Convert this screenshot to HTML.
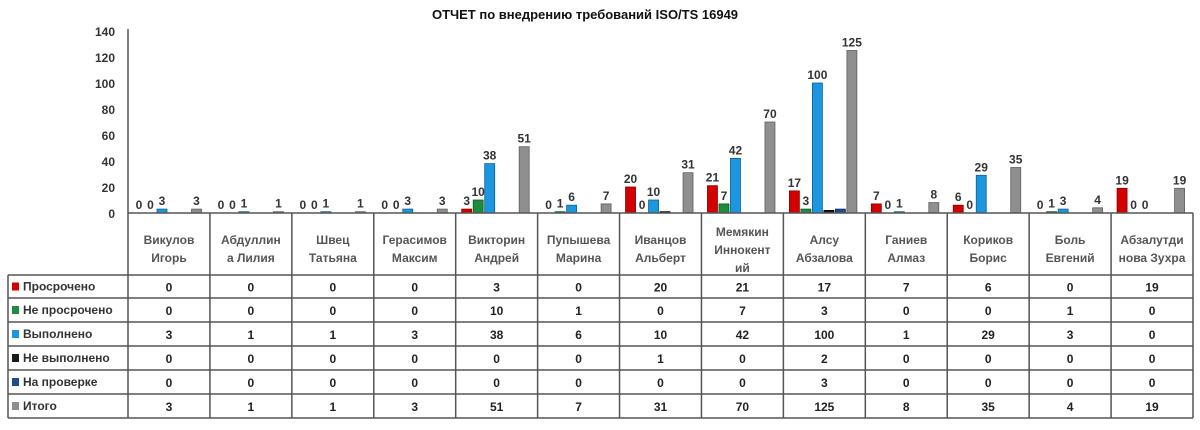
<!DOCTYPE html>
<html><head><meta charset="utf-8">
<style>
html,body{margin:0;padding:0;background:#fff;}
body{width:1200px;height:425px;overflow:hidden;font-family:"Liberation Sans",sans-serif;}
svg text{font-family:"Liberation Sans",sans-serif;}
</style></head>
<body>
<svg id="chart" width="1200" height="425" viewBox="0 0 1200 425" xmlns="http://www.w3.org/2000/svg">
<text x="585" y="19" text-anchor="middle" font-size="13" font-weight="bold" fill="#111">ОТЧЕТ по внедрению требований ISO/TS 16949</text>
<g id="axis"></g><g id="bars"></g><g id="labels"></g><g id="table"></g>
</svg>
<script>
const categories = [["Викулов","Игорь"],["Абдуллин","а Лилия"],["Швец","Татьяна"],["Герасимов","Максим"],["Викторин","Андрей"],["Пупышева","Марина"],["Иванцов","Альберт"],["Мемякин","Иннокент","ий"],["Алсу","Абзалова"],["Ганиев","Алмаз"],["Кориков","Борис"],["Боль","Евгений"],["Абзалутди","нова Зухра"]];
const seriesNames = ["Просрочено","Не просрочено","Выполнено","Не выполнено","На проверке","Итого"];
const overdue    = [0,0,0,0,3,0,20,21,17,7,6,0,19];
const notOverdue = [0,0,0,0,10,1,0,7,3,0,0,1,0];
const done       = [3,1,1,3,38,6,10,42,100,1,29,3,0];
const notDone    = [0,0,0,0,0,0,1,0,2,0,0,0,0];
const review     = [0,0,0,0,0,0,0,0,3,0,0,0,0];
const total      = [3,1,1,3,51,7,31,70,125,8,35,4,19];
const yTicks     = [0,20,40,60,80,100,120,140];

const series = [overdue,notOverdue,done,notDone,review,total];
const colors = ["#d40000","#1e8c3a","#1d96e0","#1a1a1a","#1f4e8c","#8f8f8f"];
const strokes = ["#8a0000","#0f5a22","#0d5f96","#000","#0f2e57","#5e5e5e"];
const NS="http://www.w3.org/2000/svg";
const X0=128, X1=1193, Y0=213, YT=31, YMAX=140;
const step=(X1-X0)/categories.length;
const y=v=>Y0-(v/YMAX)*(Y0-YT);
const bx=(i,s)=>X0+i*step+6+s*11.5;
function mk(tag,attrs,parent){const e=document.createElementNS(NS,tag);for(const k in attrs)e.setAttribute(k,attrs[k]);parent.appendChild(e);return e;}
const axis=document.getElementById('axis'),bars=document.getElementById('bars'),labels=document.getElementById('labels'),table=document.getElementById('table');
yTicks.forEach(t=>{
  const tx=mk('text',{x:X0-13,y:y(t)+5,'text-anchor':'end','font-size':'12','font-weight':'bold',fill:'#333'},axis);
  tx.textContent=t;
  
  
});
const yl=mk('line',{x1:X0,y1:YT-2,x2:X0,y2:Y0,stroke:'#555','stroke-width':1.5},axis);


series.forEach((arr,s)=>{
  arr.forEach((v,i)=>{
    const h=Y0-y(v);
    if(v>0){
      const r=mk('rect',{x:bx(i,s),y:y(v),width:10,height:h,fill:colors[s],stroke:strokes[s],'stroke-width':0.8},bars);
      
      
    }
    if(s===3||s===4) return;
    const t=mk('text',{x:bx(i,s)+5,y:y(v)-4,'text-anchor':'middle','font-size':'12','font-weight':'bold',fill:'#333'},labels);
    t.textContent=v;
    
    
  });
});
// table
const rowY=[275,298,322,346,370,394,418];
const L=8;
const g=table;
mk('line',{x1:X0,y1:Y0,x2:X1,y2:Y0,stroke:'#555','stroke-width':1.5},g);
for(let i=0;i<=categories.length;i++){
  mk('line',{x1:X0+i*step,y1:Y0,x2:X0+i*step,y2:rowY[6],stroke:'#555','stroke-width':1.5},g);
}
mk('line',{x1:L,y1:rowY[0],x2:L,y2:rowY[6],stroke:'#555','stroke-width':1.5},g);
rowY.forEach(yy=>mk('line',{x1:L,y1:yy,x2:X1,y2:yy,stroke:'#555','stroke-width':1.5},g));
categories.forEach((c,i)=>{
  const cx=X0+i*step+step/2;
  const startY = c.length===3?236:244;
  c.forEach((ln,k)=>{
    const t=mk('text',{x:cx,y:startY+k*18,'text-anchor':'middle','font-size':'12','font-weight':'bold',fill:'#555'},g);
    t.textContent=ln;
    
    
  });
});
series.forEach((arr,s)=>{
  const ry=rowY[s], mid=(rowY[s]+rowY[s+1])/2;
  const sw=mk('rect',{x:L+4,y:mid-4,width:7,height:8,fill:colors[s]},g);
  
  
  const lt=mk('text',{x:L+15,y:mid+4,'font-size':'12','font-weight':'bold',fill:'#333'},g);
  lt.textContent=seriesNames[s];
  
  
  arr.forEach((v,i)=>{
    const t=mk('text',{x:X0+i*step+step/2,y:mid+5,'text-anchor':'middle','font-size':'12','font-weight':'bold',fill:'#222'},g);
    t.textContent=v;
    
    
  });
});
</script>
</body></html>
